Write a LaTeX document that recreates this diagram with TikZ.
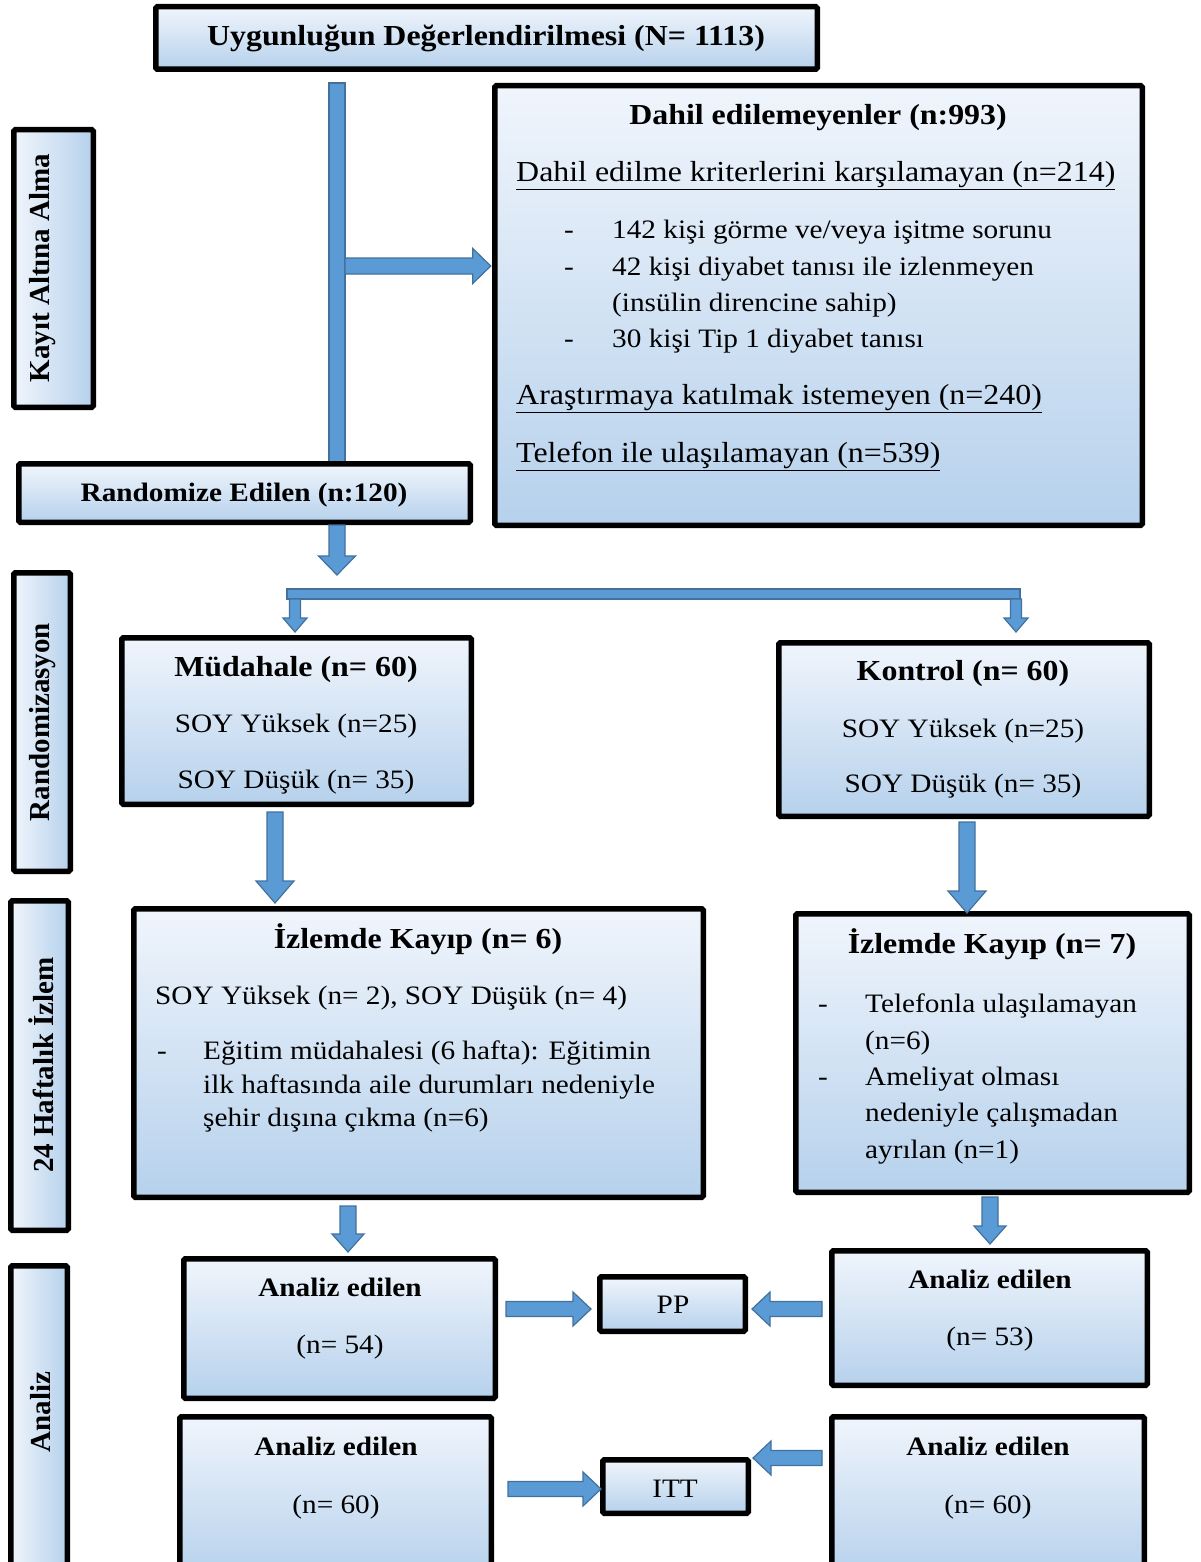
\documentclass[tikz,border=0pt]{standalone}
\usepackage{fontspec}
\setmainfont{Liberation Serif}
\usetikzlibrary{calc}
\definecolor{afill}{RGB}{91,155,213}
\definecolor{aline}{RGB}{65,113,156}
\definecolor{btop}{RGB}{240,245,252}
\definecolor{bbot}{RGB}{182,209,236}
\tikzset{
 box/.style={draw=black, line width=5.5pt, rounded corners=1.5pt, top color=btop, bottom color=bbot, inner sep=0pt},
 sidebox/.style={draw=black, line width=5.5pt, rounded corners=1.5pt, left color=btop, right color=bbot, inner sep=0pt},
 arrowfill/.style={fill=afill, draw=aline, line width=1.2pt, line join=miter},
 txt/.style={inner sep=0pt, xscale=1.1, yshift=-6pt, font=\fontsize{29}{34}\selectfont},
 btxt/.style={inner sep=0pt, xscale=1.1, yshift=-6pt, font=\fontsize{29}{34}\selectfont\bfseries},
 stxt/.style={inner sep=0pt, xscale=1.1, yshift=-6pt, font=\fontsize{26.6}{32}\selectfont},
 sbtxt/.style={inner sep=0pt, xscale=1.1, yshift=-6pt, font=\fontsize{26.6}{32}\selectfont\bfseries},
 sidetxt/.style={inner sep=0pt, font=\fontsize{29}{34}\selectfont\bfseries, rotate=90},
}
\newcommand\bx[6]{\node[#1, outer sep=0pt, minimum width={#5-#3-5.5}, minimum height={#6-#4-5.5}] (#2) at ({(#3+#5)/2},{(#4+#6)/2}) {};}
% block arrow: from, to, half shaft, half head, head length
\newcommand\barrow[5]{%
 \coordinate (ba-A) at #1; \coordinate (ba-B) at #2;
 \coordinate (ba-P) at ($(ba-B)!#5!(ba-A)$);
 \path[arrowfill] ($(ba-A)!#3!90:(ba-B)$) -- ($(ba-P)!#3!90:(ba-B)$) -- ($(ba-P)!#4!90:(ba-B)$) -- (ba-B) -- ($(ba-P)!#4!-90:(ba-B)$) -- ($(ba-P)!#3!-90:(ba-B)$) -- ($(ba-A)!#3!-90:(ba-B)$) -- cycle;}
\begin{document}
\begin{tikzpicture}[x=1pt,y=-1pt]
\clip (0,0) rectangle (1200,1562);
\fill[white] (0,0) rectangle (1200,1562);
% main vertical bar and horizontal splitter bar
\path[arrowfill] (329,83) rectangle (345,463);
\path[arrowfill] (287,589) rectangle (1020,599);
\coordinate (vb) at (345,266);
% boxes
\bx{box}{top}{153}{4}{820}{72}
\bx{sidebox}{sK}{11}{127}{96}{410}
\bx{box}{exc}{492}{83}{1145}{528}
\bx{box}{rand}{16}{461}{473}{525}
\bx{sidebox}{sR}{11}{570}{73}{874}
\bx{box}{mud}{119}{635}{474}{807}
\bx{box}{kon}{776}{640}{1152}{819}
\bx{sidebox}{sH}{8}{898}{71}{1233}
\bx{box}{izL}{131}{906}{706}{1200}
\bx{box}{izR}{793}{911}{1192}{1195}
\bx{sidebox}{sA}{8}{1263}{70}{1580}
\bx{box}{a1}{181}{1256}{498}{1401}
\bx{box}{pp}{597}{1274}{748}{1334}
\bx{box}{a2}{829}{1248}{1150}{1388}
\bx{box}{a3}{177}{1414}{494}{1580}
\bx{box}{itt}{600}{1457}{751}{1516}
\bx{box}{a4}{829}{1414}{1147}{1580}
% arrows
\coordinate (vt) at ($(exc.west |- vb)+(-4,0)$);
\barrow{(vb)}{(vt)}{8pt}{17.5pt}{18pt}
\coordinate (r1) at (337,525); \coordinate (r2) at (337,575);
\barrow{(r1)}{(r2)}{8pt}{18.5pt}{19pt}
\coordinate (s1) at (295,599); \coordinate (s2) at (295,632);
\barrow{(s1)}{(s2)}{5.5pt}{12pt}{14pt}
\coordinate (s3) at (1016,599); \coordinate (s4) at (1016,632);
\barrow{(s3)}{(s4)}{5.5pt}{12pt}{14pt}
\coordinate (m1) at (275,812); \coordinate (m2) at (275,903);
\barrow{(m1)}{(m2)}{8pt}{19pt}{22pt}
\coordinate (k1) at (967,822); \coordinate (k2) at (967,913);
\barrow{(k1)}{(k2)}{8pt}{19pt}{22pt}
\coordinate (i1) at (348,1206); \coordinate (i2) at (348,1252);
\barrow{(i1)}{(i2)}{8pt}{16pt}{18pt}
\coordinate (j1) at (990,1197); \coordinate (j2) at (990,1244);
\barrow{(j1)}{(j2)}{8pt}{16pt}{18pt}
\coordinate (p1) at (506,1309); \coordinate (p2) at (591,1309);
\barrow{(p1)}{(p2)}{7.5pt}{17pt}{18pt}
\coordinate (p3) at (822,1309); \coordinate (p4) at (752,1309);
\barrow{(p3)}{(p4)}{7.5pt}{17pt}{18pt}
\coordinate (q1) at (508,1489); \coordinate (q2) at (601,1489);
\barrow{(q1)}{(q2)}{7.5pt}{17pt}{18pt}
\coordinate (q3) at (822,1458); \coordinate (q4) at (753,1458);
\barrow{(q3)}{(q4)}{7.5pt}{17pt}{18pt}
% texts
\node[btxt, anchor=mid] (ttop) at (486,37) {Uygunluğun Değerlendirilmesi (N= 1113)};
\node[sidetxt] (tK) at (43,268) {Kayıt Altına Alma};
\node[sidetxt] (tR) at (43,722) {Randomizasyon};
\node[sidetxt] (tH) at (41,1065) {24 Haftalık İzlem};
\node[sidetxt] (tA) at (41,1412) {Analiz};
\node[btxt, anchor=mid] (e0) at (818,116) {Dahil edilemeyenler (n:993)};
\node[txt, anchor=mid west] (e1) at (516,173) {\underline{Dahil edilme kriterlerini karşılamayan (n=214)}};
\node[stxt, anchor=mid west] (d1) at (564,230) {-};
\node[stxt, anchor=mid west] (e2) at (612,230) {142 kişi görme ve/veya işitme sorunu};
\node[stxt, anchor=mid west] (d2) at (564,267) {-};
\node[stxt, anchor=mid west] (e3) at (612,267) {42 kişi diyabet tanısı ile izlenmeyen};
\node[stxt, anchor=mid west] (e4) at (612,303) {(insülin direncine sahip)};
\node[stxt, anchor=mid west] (d3) at (564,339) {-};
\node[stxt, anchor=mid west] (e5) at (612,339) {30 kişi Tip 1 diyabet tanısı};
\node[txt, anchor=mid west] (e6) at (516,396) {\underline{Araştırmaya katılmak istemeyen (n=240)}};
\node[txt, anchor=mid west] (e7) at (516,454) {\underline{Telefon ile ulaşılamayan (n=539)}};
\node[sbtxt, anchor=mid] (tr) at (244,493) {Randomize Edilen (n:120)};
\node[btxt, anchor=mid] (m0) at (296,668) {Müdahale (n= 60)};
\node[stxt, anchor=mid] (m3) at (296,724) {SOY Yüksek (n=25)};
\node[stxt, anchor=mid] (m4) at (296,780) {SOY Düşük (n= 35)};
\node[btxt, anchor=mid] (k0) at (963,672) {Kontrol (n= 60)};
\node[stxt, anchor=mid] (k3) at (963,729) {SOY Yüksek (n=25)};
\node[stxt, anchor=mid] (k4) at (963,784) {SOY Düşük (n= 35)};
\node[btxt, anchor=mid] (l0) at (418,940) {İzlemde Kayıp (n= 6)};
\node[stxt, anchor=mid west] (l1) at (155,996) {SOY Yüksek (n= 2), SOY Düşük (n= 4)};
\node[stxt, anchor=mid west] (ld) at (157,1051) {-};
\node[stxt, anchor=mid west] (l2) at (203,1051) {Eğitim müdahalesi (6 hafta): Eğitimin};
\node[stxt, anchor=mid west] (l3) at (203,1085) {ilk haftasında aile durumları nedeniyle};
\node[stxt, anchor=mid west] (l4) at (203,1118) {şehir dışına çıkma (n=6)};
\node[btxt, anchor=mid] (r0) at (992,945) {İzlemde Kayıp (n= 7)};
\node[stxt, anchor=mid west] (rd1) at (818,1004) {-};
\node[stxt, anchor=mid west] (rr1) at (865,1004) {Telefonla ulaşılamayan};
\node[stxt, anchor=mid west] (rr2) at (865,1041) {(n=6)};
\node[stxt, anchor=mid west] (rd2) at (818,1077) {-};
\node[stxt, anchor=mid west] (rr3) at (865,1077) {Ameliyat olması};
\node[stxt, anchor=mid west] (rr4) at (865,1113) {nedeniyle çalışmadan};
\node[stxt, anchor=mid west] (rr5) at (865,1150) {ayrılan (n=1)};
\node[sbtxt, anchor=mid] (a1t) at (340,1288) {Analiz edilen};
\node[stxt, anchor=mid] (a1n) at (340,1345) {(n= 54)};
\node[stxt, anchor=mid] (ppt) at (673,1305) {PP};
\node[sbtxt, anchor=mid] (a2t) at (990,1280) {Analiz edilen};
\node[stxt, anchor=mid] (a2n) at (990,1337) {(n= 53)};
\node[sbtxt, anchor=mid] (a3t) at (336,1447) {Analiz edilen};
\node[stxt, anchor=mid] (a3n) at (336,1505) {(n= 60)};
\node[stxt, anchor=mid] (ittt) at (675,1489) {ITT};
\node[sbtxt, anchor=mid] (a4t) at (988,1447) {Analiz edilen};
\node[stxt, anchor=mid] (a4n) at (988,1505) {(n= 60)};
\end{tikzpicture}
\end{document}
